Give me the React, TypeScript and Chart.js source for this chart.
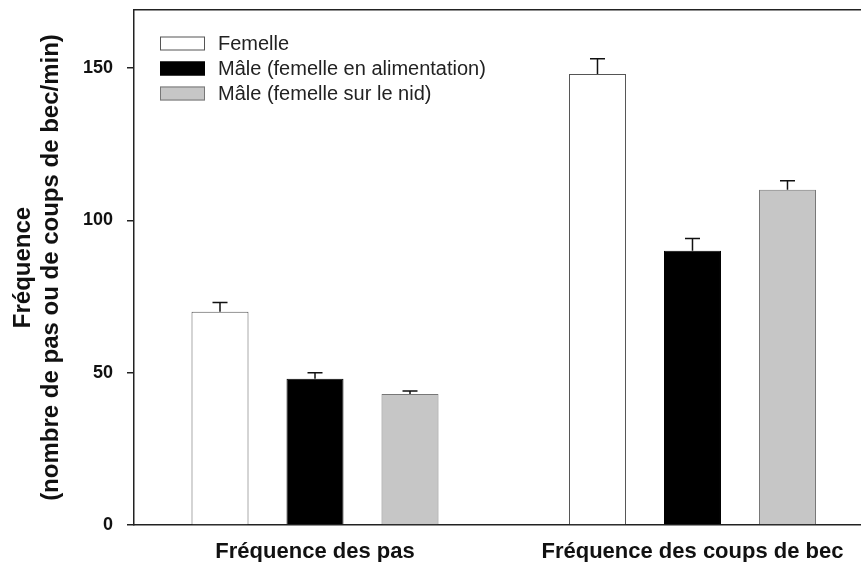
import React, { useEffect, useRef } from "react";
import { Chart, registerables } from "chart.js";

Chart.register(...registerables);

const categories = ["Fréquence des pas", "Fréquence des coups de bec"];
const seriesLabels = [
  "Femelle",
  "Mâle (femelle en alimentation)",
  "Mâle (femelle sur le nid)",
];
const femelle = [70, 148];
const maleAlimentation = [48, 90];
const maleNid = [43, 110];
const errFemelle = [3, 5];
const errMaleAlimentation = [2, 4];
const errMaleNid = [1, 3];
const yTicks = [0, 50, 100, 150];
const yTitle = ["Fréquence", "(nombre de pas ou de coups de bec/min)"];

const FONT = "'Liberation Sans', Arial, Helvetica, sans-serif";

const errorBarPlugin = {
  id: "errorBars",
  afterDatasetsDraw(chart: any) {
    const ctx = chart.ctx;
    const yScale = chart.scales.y;
    ctx.save();
    ctx.strokeStyle = "#111";
    ctx.lineWidth = 1.5;
    chart.data.datasets.forEach((ds: any, di: number) => {
      const meta = chart.getDatasetMeta(di);
      meta.data.forEach((bar: any, i: number) => {
        const v = ds.data[i].y;
        const e = ds.errors[i];
        const yTop = yScale.getPixelForValue(v + e);
        const x = bar.x;
        ctx.beginPath();
        ctx.moveTo(x, bar.y);
        ctx.lineTo(x, yTop);
        ctx.moveTo(x - 7.5, yTop);
        ctx.lineTo(x + 7.5, yTop);
        ctx.stroke();
      });
    });
    ctx.restore();
  },
};

const legendPlugin = {
  id: "boxLegend",
  afterDraw(chart: any) {
    const ctx = chart.ctx;
    ctx.save();
    ctx.font = `20px ${FONT}`;
    ctx.textBaseline = "middle";
    ctx.textAlign = "left";
    chart.data.datasets.forEach((ds: any, i: number) => {
      const cy = 43.5 + i * 25;
      ctx.fillStyle = ds.backgroundColor;
      ctx.fillRect(160, cy - 7, 45, 14);
      ctx.strokeStyle = ds.borderColor;
      ctx.lineWidth = 1;
      ctx.strokeRect(160.5, cy - 6.5, 44, 13);
      ctx.fillStyle = "#222";
      ctx.fillText(ds.label, 218, cy + 1);
    });
    ctx.restore();
  },
};

const zeroPadding = (scale: any) => {
  scale.paddingTop = 0;
  scale.paddingBottom = 0;
  scale.paddingLeft = 0;
  scale.paddingRight = 0;
};

export default function App() {
  const ref = useRef<HTMLCanvasElement>(null);

  useEffect(() => {
    if (!ref.current) return;
    Chart.defaults.font.family = FONT;
    const toPoints = (arr: number[]) => arr.map((v, i) => ({ x: i + 1, y: v }));
    const chart = new Chart(ref.current, {
      type: "bar",
      data: {
        datasets: [
          {
            label: seriesLabels[0],
            data: toPoints(femelle),
            errors: errFemelle,
            backgroundColor: "#ffffff",
            borderColor: "#555555",
            borderWidth: 1,
          },
          {
            label: seriesLabels[1],
            data: toPoints(maleAlimentation),
            errors: errMaleAlimentation,
            backgroundColor: "#000000",
            borderColor: "#000000",
            borderWidth: 1,
          },
          {
            label: seriesLabels[2],
            data: toPoints(maleNid),
            errors: errMaleNid,
            backgroundColor: "#c6c6c6",
            borderColor: "#777777",
            borderWidth: 1,
          },
        ] as any,
      },
      options: {
        responsive: false,
        animation: false,
        maintainAspectRatio: false,
        categoryPercentage: 0.755,
        barPercentage: 0.6,
        layout: { padding: { left: 0, right: 0, top: 0, bottom: 0 } },
        plugins: {
          legend: { display: false },
          tooltip: { enabled: false },
        },
        scales: {
          x: {
            type: "linear",
            position: "bottom",
            offset: false,
            min: 0.5205,
            max: 2.4464,
            afterBuildTicks: (scale: any) => {
              scale.ticks = categories.map((_, i) => ({ value: i + 1 }));
            },
            afterFit: (scale: any) => {
              scale.height = 37;
              zeroPadding(scale);
            },
            grid: { display: false, drawTicks: false, offset: false },
            border: { display: true, color: "#222", width: 1.5 },
            ticks: {
              padding: 14,
              color: "#111",
              font: { size: 22, weight: "bold" },
              maxRotation: 0,
              autoSkip: false,
              callback: (v: any) => categories[Math.round(v) - 1] ?? "",
            },
          },
          top: {
            type: "linear",
            axis: "x",
            position: "top",
            offset: false,
            min: 0,
            max: 1,
            grid: { display: false, drawTicks: false },
            ticks: { display: false },
            border: { display: true, color: "#222", width: 1.5 },
            afterFit: (scale: any) => {
              scale.height = 10;
              zeroPadding(scale);
            },
          },
          y: {
            type: "linear",
            min: 0,
            max: 169,
            afterBuildTicks: (scale: any) => {
              scale.ticks = yTicks.map((v) => ({ value: v }));
            },
            afterFit: (scale: any) => {
              scale.width = 134;
              zeroPadding(scale);
            },
            grid: {
              display: true,
              drawOnChartArea: false,
              drawTicks: true,
              tickLength: 7,
              tickColor: "#222",
              lineWidth: 1.5,
            },
            border: { display: true, color: "#222", width: 1.5 },
            ticks: {
              padding: 14,
              color: "#111",
              font: { size: 18, weight: "bold" },
            },
            title: {
              display: true,
              text: yTitle,
              color: "#111",
              font: { size: 24, weight: "bold", lineHeight: 1.17 },
              padding: { top: 9, bottom: 0 },
            },
          },
        },
      } as any,
      plugins: [errorBarPlugin, legendPlugin],
    });
    return () => chart.destroy();
  }, []);

  return (
    <div
      style={{
        position: "fixed",
        left: 0,
        top: 0,
        width: 861,
        height: 562,
        background: "#ffffff",
      }}
    >
      <canvas ref={ref} width={861} height={562} style={{ width: 861, height: 562 }} />
    </div>
  );
}
